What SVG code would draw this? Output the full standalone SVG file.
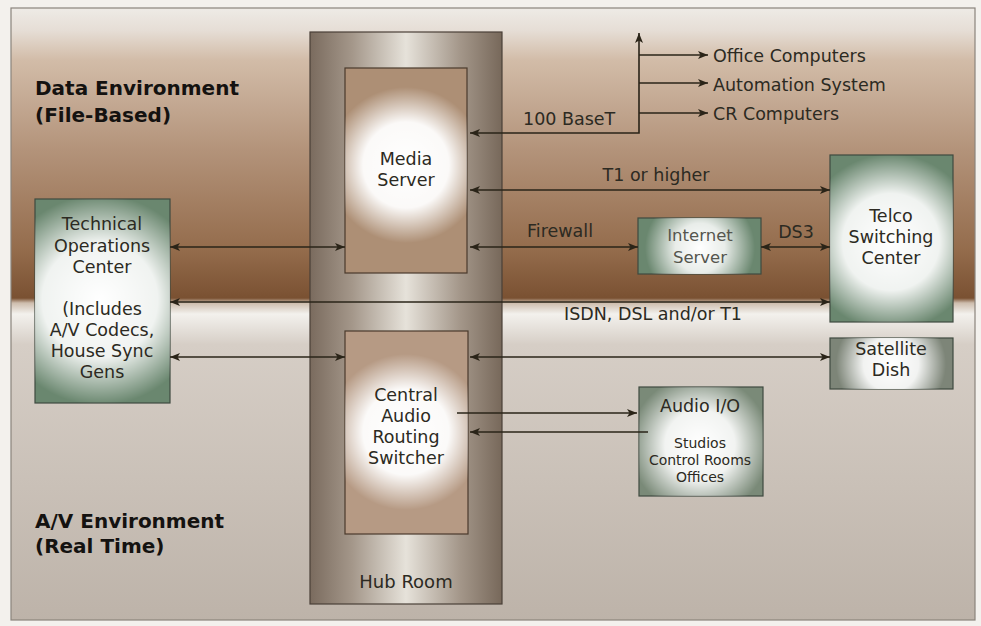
<svg xmlns="http://www.w3.org/2000/svg" width="981" height="626" viewBox="0 0 981 626">
<defs>
<linearGradient id="bg" gradientUnits="userSpaceOnUse" x1="0" y1="8" x2="0" y2="620">
<stop offset="0" stop-color="#eeebe6"/>
<stop offset="0.036" stop-color="#e6ded6"/>
<stop offset="0.085" stop-color="#d2bca8"/>
<stop offset="0.232" stop-color="#b3937a"/>
<stop offset="0.395" stop-color="#946c4c"/>
<stop offset="0.474" stop-color="#7a5132"/>
<stop offset="0.482" stop-color="#cdbdad"/>
<stop offset="0.50" stop-color="#f3f1ed"/>
<stop offset="0.55" stop-color="#d6cec6"/>
<stop offset="1" stop-color="#bdb3a9"/>
</linearGradient>
<linearGradient id="hub" x1="0" y1="0" x2="1" y2="0">
<stop offset="0" stop-color="#7a6b5e"/>
<stop offset="0.22" stop-color="#a4978a"/>
<stop offset="0.5" stop-color="#e6e2da"/>
<stop offset="0.78" stop-color="#a4978a"/>
<stop offset="1" stop-color="#77685a"/>
</linearGradient>
<radialGradient id="gMedia" gradientUnits="userSpaceOnUse" cx="406" cy="165" r="78">
<stop offset="0" stop-color="#fff" stop-opacity="1"/>
<stop offset="0.55" stop-color="#fff" stop-opacity="0.95"/>
<stop offset="1" stop-color="#fff" stop-opacity="0"/>
</radialGradient>
<radialGradient id="gCentral" gradientUnits="userSpaceOnUse" cx="406" cy="432" r="78">
<stop offset="0" stop-color="#fff" stop-opacity="1"/>
<stop offset="0.55" stop-color="#fff" stop-opacity="0.95"/>
<stop offset="1" stop-color="#fff" stop-opacity="0"/>
</radialGradient>
<radialGradient id="gToc" gradientUnits="userSpaceOnUse" cx="100" cy="300" r="105">
<stop offset="0" stop-color="#fff" stop-opacity="1"/>
<stop offset="0.55" stop-color="#fff" stop-opacity="0.9"/>
<stop offset="1" stop-color="#fff" stop-opacity="0"/>
</radialGradient>
<radialGradient id="gTelco" gradientUnits="userSpaceOnUse" cx="891" cy="242" r="88">
<stop offset="0" stop-color="#fff" stop-opacity="1"/>
<stop offset="0.55" stop-color="#fff" stop-opacity="0.9"/>
<stop offset="1" stop-color="#fff" stop-opacity="0"/>
</radialGradient>
<radialGradient id="gInet" gradientUnits="userSpaceOnUse" cx="700" cy="248" r="55">
<stop offset="0" stop-color="#fff" stop-opacity="1"/>
<stop offset="0.45" stop-color="#fff" stop-opacity="0.85"/>
<stop offset="1" stop-color="#fff" stop-opacity="0"/>
</radialGradient>
<radialGradient id="gSat" gradientUnits="userSpaceOnUse" cx="891" cy="364" r="55">
<stop offset="0" stop-color="#fff" stop-opacity="1"/>
<stop offset="0.5" stop-color="#fff" stop-opacity="0.9"/>
<stop offset="1" stop-color="#fff" stop-opacity="0"/>
</radialGradient>
<radialGradient id="gAudio" gradientUnits="userSpaceOnUse" cx="700" cy="445" r="70">
<stop offset="0" stop-color="#fff" stop-opacity="1"/>
<stop offset="0.5" stop-color="#fff" stop-opacity="0.9"/>
<stop offset="1" stop-color="#fff" stop-opacity="0"/>
</radialGradient>
<marker id="ah" viewBox="0 0 10 8" refX="10" refY="4" markerWidth="10" markerHeight="8" markerUnits="userSpaceOnUse" orient="auto-start-reverse">
<path d="M0,0 L10,4 L0,8 L2.5,4 Z" fill="#2a2418"/>
</marker>
<style>
.t{font-family:"DejaVu Sans","Open Sans","Liberation Sans",sans-serif;fill:#2c2a22;text-anchor:middle;font-size:17.5px}
.env{font-family:"DejaVu Sans","Open Sans","Liberation Sans",sans-serif;font-weight:bold;font-size:20px;fill:#141210}
.lbl{font-family:"DejaVu Sans","Open Sans","Liberation Sans",sans-serif;font-size:17.5px;fill:#2c2a22}
.c{fill:none;stroke:#2a2418;stroke-width:1.6}
.green{fill:#6a876f;stroke:#3e4a40;stroke-width:1.2}
.tan{fill:#ad8f75;stroke:#4a3a2c;stroke-width:1.2}
</style>
</defs>
<rect x="0" y="0" width="981" height="626" fill="#f3f1ed"/>
<rect x="11" y="8" width="964" height="612" fill="url(#bg)" stroke="#8a847c" stroke-width="1.2"/>
<text class="env" x="35" y="95">Data Environment</text>
<text class="env" x="35" y="122">(File-Based)</text>
<text class="env" x="35" y="528">A/V Environment</text>
<text class="env" x="35" y="553">(Real Time)</text>
<g id="hub-room">
<rect x="310" y="32" width="192" height="572" fill="url(#hub)" stroke="#4a4038" stroke-width="1.2"/>
<text class="t" x="406" y="588" style="font-size:18px">Hub Room</text>
</g>
<g id="media-server">
<rect class="tan" x="345" y="68" width="122" height="205"/>
<rect x="345" y="68" width="122" height="205" fill="url(#gMedia)"/>
<text class="t" x="406" y="165">Media</text>
<text class="t" x="406" y="186">Server</text>
</g>
<g id="central-audio">
<rect class="tan" x="345" y="331" width="123" height="203" style="fill:#b69a84"/>
<rect x="345" y="331" width="123" height="203" fill="url(#gCentral)"/>
<text class="t" x="406" y="401">Central</text>
<text class="t" x="406" y="422">Audio</text>
<text class="t" x="406" y="443">Routing</text>
<text class="t" x="406" y="464">Switcher</text>
</g>
<g id="toc">
<rect class="green" x="35" y="199" width="135" height="204"/>
<rect x="35" y="199" width="135" height="204" fill="url(#gToc)"/>
<text class="t" x="102" y="230">Technical</text>
<text class="t" x="102" y="252">Operations</text>
<text class="t" x="102" y="273">Center</text>
<text class="t" x="102" y="315">(Includes</text>
<text class="t" x="102" y="336">A/V Codecs,</text>
<text class="t" x="102" y="357">House Sync</text>
<text class="t" x="102" y="378">Gens</text>
</g>
<g id="internet-server">
<rect class="green" x="638" y="218" width="123" height="56"/>
<rect x="638" y="218" width="123" height="56" fill="url(#gInet)"/>
<text class="t" x="700" y="241" style="fill:#55564e;font-size:16.5px">Internet</text>
<text class="t" x="700" y="263" style="fill:#55564e;font-size:16.5px">Server</text>
</g>
<g id="telco">
<rect class="green" x="830" y="155" width="123" height="167"/>
<rect x="830" y="155" width="123" height="167" fill="url(#gTelco)"/>
<text class="t" x="891" y="222">Telco</text>
<text class="t" x="891" y="243">Switching</text>
<text class="t" x="891" y="264">Center</text>
</g>
<g id="satellite">
<rect class="green" x="830" y="338" width="123" height="51" style="fill:#7d8578"/>
<rect x="830" y="338" width="123" height="51" fill="url(#gSat)"/>
<text class="t" x="891" y="355">Satellite</text>
<text class="t" x="891" y="376">Dish</text>
</g>
<g id="audio-io">
<rect class="green" x="639" y="387" width="124" height="109" style="fill:#7a8a78"/>
<rect x="639" y="387" width="124" height="109" fill="url(#gAudio)"/>
<text class="t" x="700" y="412">Audio I/O</text>
<text class="t" x="700" y="448" style="font-size:14px">Studios</text>
<text class="t" x="700" y="465" style="font-size:14px">Control Rooms</text>
<text class="t" x="700" y="482" style="font-size:14px">Offices</text>
</g>
<g id="connectors">
<path class="c" d="M470,133 H639 V33" marker-start="url(#ah)" marker-end="url(#ah)"/>
<path class="c" d="M639,55 H708" marker-end="url(#ah)"/>
<path class="c" d="M639,83 H708" marker-end="url(#ah)"/>
<path class="c" d="M639,113 H708" marker-end="url(#ah)"/>
<path class="c" d="M470,190 H830" marker-start="url(#ah)" marker-end="url(#ah)"/>
<path class="c" d="M470,247 H638" marker-start="url(#ah)" marker-end="url(#ah)"/>
<path class="c" d="M761,247 H830" marker-start="url(#ah)" marker-end="url(#ah)"/>
<path class="c" d="M170,247 H345" marker-start="url(#ah)" marker-end="url(#ah)"/>
<path class="c" d="M170,302 H830" marker-start="url(#ah)" marker-end="url(#ah)"/>
<path class="c" d="M170,357 H345" marker-start="url(#ah)" marker-end="url(#ah)"/>
<path class="c" d="M470,357 H830" marker-start="url(#ah)" marker-end="url(#ah)"/>
<path class="c" d="M457,413 H637" marker-end="url(#ah)"/>
<path class="c" d="M648,432 H470" marker-end="url(#ah)"/>
</g>
<g id="labels">
<text class="lbl" x="523" y="125">100 BaseT</text>
<text class="lbl" x="713" y="62">Office Computers</text>
<text class="lbl" x="713" y="91">Automation System</text>
<text class="lbl" x="713" y="120">CR Computers</text>
<text class="lbl" x="656" y="181" text-anchor="middle">T1 or higher</text>
<text class="lbl" x="527" y="237">Firewall</text>
<text class="lbl" x="796" y="238" text-anchor="middle">DS3</text>
<text class="lbl" x="653" y="320" text-anchor="middle">ISDN, DSL and/or T1</text>
</g>
</svg>
